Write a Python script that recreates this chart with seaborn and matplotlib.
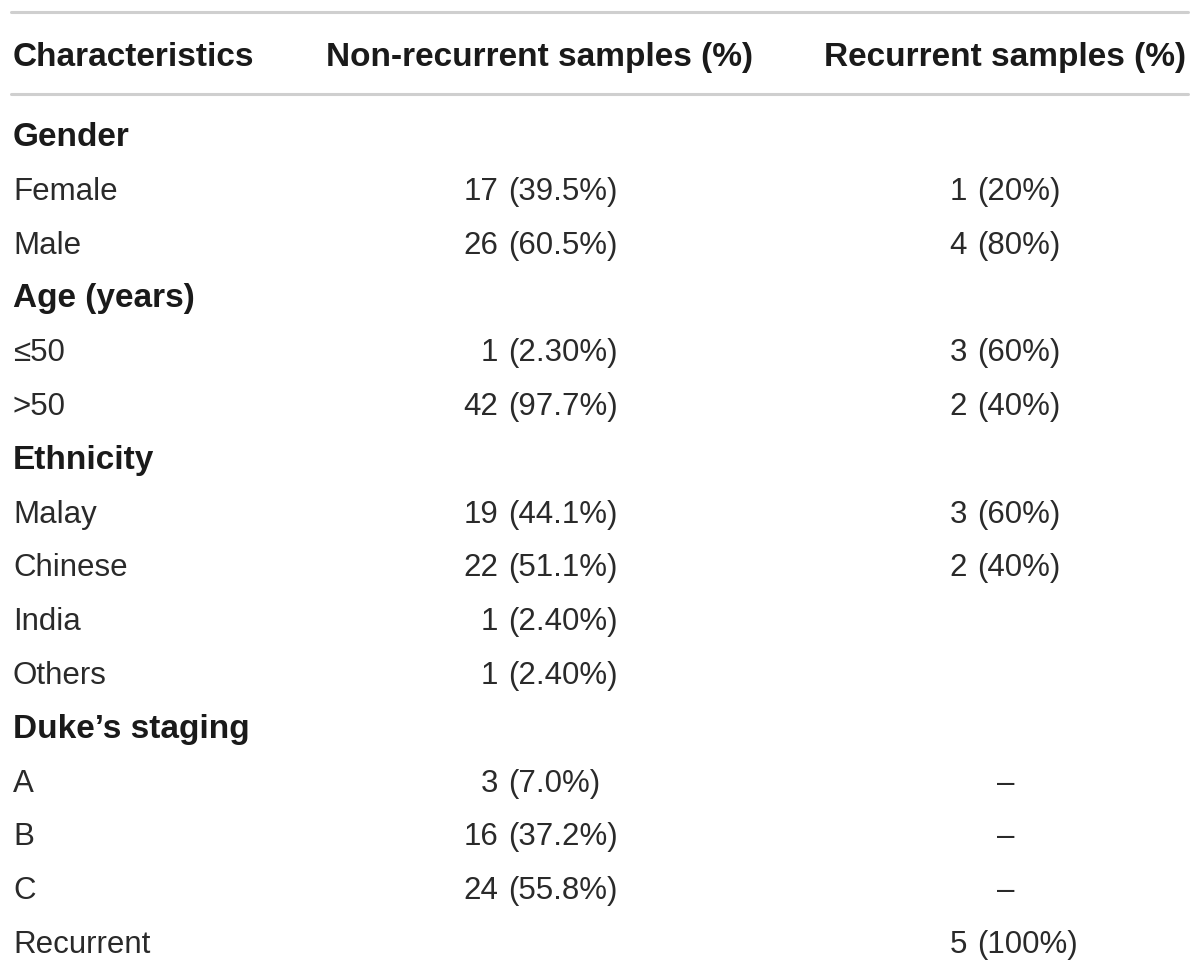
import seaborn as sns
import matplotlib.pyplot as plt
import pandas as pd

# table content
headers = ["Characteristics", "Non-recurrent samples (%)", "Recurrent samples (%)"]
labels = ["Gender", "Female", "Male", "Age (years)", "\u226450", ">50",
          "Ethnicity", "Malay", "Chinese", "India", "Others",
          "Duke\u2019s staging", "A", "B", "C", "Recurrent"]
is_group = [True, False, False, True, False, False,
            True, False, False, False, False,
            True, False, False, False, False]
non_recurrent = ["", "17 (39.5%)", "26 (60.5%)", "", "1 (2.30%)", "42 (97.7%)",
                 "", "19 (44.1%)", "22 (51.1%)", "1 (2.40%)", "1 (2.40%)",
                 "", "3 (7.0%)", "16 (37.2%)", "24 (55.8%)", ""]
recurrent = ["", "1 (20%)", "4 (80%)", "", "3 (60%)", "2 (40%)",
             "", "3 (60%)", "2 (40%)", "", "",
             "", "\u2013", "\u2013", "\u2013", "5 (100%)"]

df = pd.DataFrame({"label": labels, "group": is_group,
                   "non": non_recurrent, "rec": recurrent})
df["row"] = range(len(df))

sns.set_theme(style="white")
plt.rcParams['font.family'] = ['Liberation Sans', 'DejaVu Sans']

fig = plt.figure(figsize=(12, 9.75), dpi=100)
ax = fig.add_axes([0, 0, 1, 1])
ax.set_xlim(0, 1200)
ax.set_ylim(975, 0)
ax.axis("off")

txt = "#2a2a2a"
bold_col = "#1a1a1a"
line_col = "#cfcfcf"
fs = 22.5
fs_b = 24

# rules
rules = pd.DataFrame({"x": [11, 1188, 11, 1188], "y": [12, 12, 94, 94],
                      "rule": ["top", "top", "mid", "mid"]})
sns.lineplot(data=rules, x="x", y="y", units="rule", estimator=None,
             color=line_col, linewidth=2.2, ax=ax, legend=False)

# header
hy = 66
ax.text(13, hy, headers[0], ha="left", va="baseline", fontsize=fs_b,
        fontweight="bold", color=bold_col)
ax.text(540, hy, headers[1], ha="center", va="baseline", fontsize=fs_b,
        fontweight="bold", color=bold_col)
ax.text(1005, hy, headers[2], ha="center", va="baseline", fontsize=fs_b,
        fontweight="bold", color=bold_col)


def split_cell(x_paren, y, s):
    # align the values on the opening parenthesis
    if "(" in s:
        left, right = s.split("(", 1)
        ax.text(x_paren - 10, y, left.strip(), ha="right", va="baseline",
                fontsize=fs, color=txt)
        ax.text(x_paren, y, "(" + right, ha="left", va="baseline",
                fontsize=fs, color=txt)
    elif s:
        ax.text(x_paren + 29, y, s, ha="center", va="baseline",
                fontsize=fs, color=txt)


y0, dy = 146, 53.8
for _, r in df.iterrows():
    y = y0 + dy * r["row"]
    if r["group"]:
        ax.text(13, y, r["label"], ha="left", va="baseline", fontsize=fs_b,
                fontweight="bold", color=bold_col)
    else:
        ax.text(13, y, r["label"], ha="left", va="baseline", fontsize=fs,
                color=txt)
    split_cell(508, y, r["non"])
    split_cell(977, y, r["rec"])

fig.savefig("out.png", dpi=100, facecolor="white")
